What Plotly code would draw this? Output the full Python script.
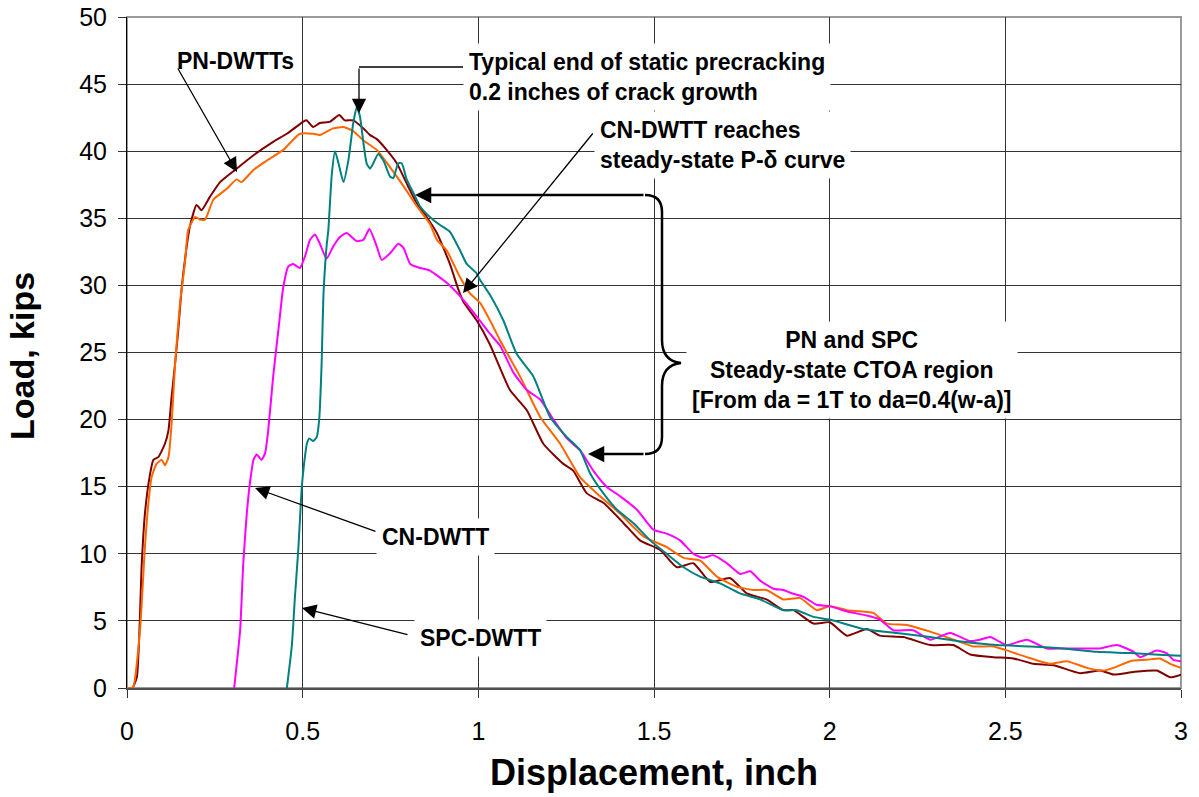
import plotly.graph_objects as go

# ---------------- data ----------------
pn1_x = [0.0, 0.015, 0.028, 0.042, 0.051, 0.064, 0.075, 0.089, 0.108, 0.118, 0.127, 0.137, 0.146, 0.156,
         0.170, 0.179, 0.198, 0.212, 0.236, 0.265, 0.312, 0.36, 0.416, 0.455, 0.502, 0.511, 0.53, 0.549,
         0.578, 0.604, 0.62, 0.644, 0.673, 0.692, 0.711, 0.739, 0.768, 0.796, 0.825, 0.853, 0.882, 0.919,
         0.943, 0.957, 0.995, 1.033, 1.09, 1.138, 1.185, 1.242, 1.27, 1.309, 1.356, 1.413, 1.46, 1.517,
         1.565, 1.612, 1.66, 1.716, 1.764, 1.82, 1.868, 1.897, 1.954, 2.0, 2.049, 2.106, 2.143, 2.21,
         2.286, 2.352, 2.4, 2.466, 2.523, 2.58, 2.637, 2.713, 2.77, 2.808, 2.865, 2.931, 2.969, 3.0]
pn1_y = [0.0, 0.0, 0.8, 9.3, 13.0, 15.7, 17.0, 17.2, 18.2, 19.2, 21.7, 24.2, 26.7, 29.9,
         32.9, 34.4, 36.0, 35.6, 36.6, 37.7, 38.7, 39.7, 40.7, 41.3, 42.2, 42.3, 41.8, 42.1,
         42.2, 42.7, 42.3, 42.3, 41.7, 41.2, 40.9, 40.1, 39.1, 37.6, 36.1, 35.1, 33.9, 31.6,
         29.7, 28.8, 27.4, 25.6, 22.2, 20.7, 18.2, 16.7, 16.2, 14.5, 13.8, 12.3, 11.0, 10.3,
         9.0, 9.3, 7.9, 8.2, 7.05, 6.6, 5.8, 5.8, 4.8, 4.9, 3.9, 4.4, 3.9, 3.8,
         3.2, 3.2, 2.5, 2.3, 2.2, 1.8, 1.7, 1.1, 1.3, 1.0, 1.2, 1.3, 0.8, 1.0]

pn2_x = [0.0, 0.012, 0.018, 0.037, 0.051, 0.061, 0.07, 0.084, 0.099, 0.108, 0.118, 0.127, 0.137, 0.151,
         0.165, 0.174, 0.194, 0.208, 0.222, 0.246, 0.284, 0.312, 0.326, 0.36, 0.398, 0.445, 0.492, 0.53,
         0.549, 0.587, 0.616, 0.644, 0.673, 0.711, 0.749, 0.787, 0.825, 0.862, 0.882, 0.91, 0.948, 0.976,
         1.005, 1.033, 1.062, 1.119, 1.176, 1.233, 1.29, 1.346, 1.403, 1.47, 1.536, 1.584, 1.631, 1.679,
         1.736, 1.783, 1.82, 1.868, 1.916, 1.963, 2.0, 2.049, 2.124, 2.162, 2.22, 2.286, 2.343, 2.409,
         2.466, 2.504, 2.561, 2.627, 2.675, 2.732, 2.779, 2.808, 2.855, 2.902, 2.94, 2.969, 3.0]
pn2_y = [0.0, 0.0, 0.1, 4.3, 10.5, 13.8, 15.7, 16.7, 17.0, 16.6, 17.2, 19.7, 24.2, 28.7,
         31.7, 34.1, 35.1, 34.9, 34.9, 36.4, 37.2, 37.9, 37.7, 38.6, 39.3, 40.1, 41.3, 41.3,
         41.2, 41.7, 41.8, 41.5, 40.8, 40.1, 38.8, 37.4, 35.9, 34.6, 33.4, 32.6, 30.6, 29.4,
         28.7, 27.4, 25.9, 23.2, 20.2, 18.2, 15.7, 14.3, 13.0, 11.3, 10.5, 9.7, 9.5, 8.3,
         7.55, 7.3, 7.3, 6.6, 6.7, 5.8, 6.1, 5.8, 5.6, 4.8, 4.7, 4.2, 3.7, 3.1,
         3.1, 2.8, 2.3, 1.8, 2.0, 1.5, 1.3, 1.5, 2.0, 2.1, 2.2, 1.8, 1.5]

cn_x = [0.305, 0.322, 0.331, 0.341, 0.35, 0.36, 0.369, 0.383, 0.393, 0.402, 0.416, 0.431, 0.445, 0.459,
        0.473, 0.492, 0.507, 0.521, 0.535, 0.549, 0.568, 0.587, 0.606, 0.625, 0.654, 0.673, 0.69, 0.711,
        0.725, 0.749, 0.772, 0.787, 0.806, 0.834, 0.862, 0.91, 0.948, 0.995, 1.033, 1.062, 1.1, 1.138,
        1.176, 1.214, 1.252, 1.29, 1.327, 1.365, 1.403, 1.451, 1.498, 1.536, 1.574, 1.612, 1.641, 1.669,
        1.707, 1.745, 1.774, 1.802, 1.84, 1.868, 1.888, 1.925, 1.963, 2.0, 2.049, 2.106, 2.143, 2.181,
        2.238, 2.286, 2.343, 2.4, 2.428, 2.457, 2.504, 2.561, 2.618, 2.665, 2.722, 2.77, 2.817, 2.865,
        2.884, 2.931, 2.959, 2.978, 3.0]
cn_y = [0.0, 4.3, 9.3, 13.0, 15.3, 17.0, 17.4, 17.0, 17.5, 19.2, 23.2, 26.7, 29.9, 31.4,
        31.6, 31.3, 32.2, 33.4, 33.8, 33.1, 32.0, 32.9, 33.6, 33.9, 33.3, 33.4, 34.2, 32.9,
        31.9, 32.4, 33.1, 32.8, 31.6, 31.3, 31.1, 30.2, 29.2, 27.7, 26.4, 25.5, 23.5, 22.2,
        21.5, 20.0, 18.6, 17.7, 16.2, 15.0, 14.3, 13.3, 11.8, 11.5, 11.0, 10.0, 9.7, 9.9,
        9.3, 8.5, 8.7, 8.0, 7.4, 7.3, 7.1, 6.8, 6.2, 6.1, 5.7, 5.4, 5.1, 4.3,
        4.3, 3.6, 4.1, 3.5, 3.6, 3.8, 3.2, 3.6, 2.95, 2.95, 2.95, 2.95, 3.2, 2.7,
        2.3, 2.8, 2.6, 2.1, 2.0]

spc_x = [0.455, 0.469, 0.478, 0.488, 0.497, 0.504, 0.512, 0.519, 0.53, 0.54, 0.547, 0.554, 0.559, 0.568,
         0.573, 0.583, 0.592, 0.602, 0.616, 0.63, 0.644, 0.654, 0.663, 0.673, 0.682, 0.692, 0.701, 0.715,
         0.73, 0.749, 0.758, 0.772, 0.782, 0.796, 0.815, 0.834, 0.862, 0.891, 0.919, 0.948, 0.967, 0.995,
         1.005, 1.033, 1.071, 1.109, 1.157, 1.204, 1.252, 1.29, 1.318, 1.356, 1.394, 1.441, 1.489, 1.536,
         1.584, 1.631, 1.688, 1.745, 1.802, 1.868, 1.906, 1.954, 2.0, 2.096, 2.191, 2.286, 2.381, 2.476,
         2.571, 2.665, 2.76, 2.855, 2.95, 3.0]
spc_y = [0.0, 3.1, 6.8, 10.5, 14.8, 16.7, 18.2, 18.6, 18.4, 18.7, 20.0, 24.2, 29.2, 32.9,
         34.1, 38.3, 40.0, 39.1, 37.7, 39.3, 42.1, 43.3, 42.6, 40.6, 39.1, 38.7, 39.1, 39.8,
         39.3, 38.1, 38.0, 39.1, 39.1, 37.9, 36.9, 35.9, 35.1, 34.5, 34.0, 32.6, 31.6, 30.9,
         30.4, 29.3, 27.4, 24.9, 23.2, 20.2, 18.7, 17.7, 16.0, 14.5, 13.3, 12.3, 11.0, 10.0,
         9.0, 8.3, 7.8, 7.05, 6.6, 5.8, 5.8, 5.3, 5.1, 4.4, 4.1, 3.8, 3.45, 3.2,
         3.1, 2.95, 2.7, 2.6, 2.45, 2.4]

x_ticks = [0, 0.5, 1, 1.5, 2, 2.5, 3]
x_tick_labels = ["0", "0.5", "1", "1.5", "2", "2.5", "3"]
y_ticks = [0, 5, 10, 15, 20, 25, 30, 35, 40, 45, 50]

# ---------------- figure ----------------
W, H = 1199, 797
ML, MR, MT, MB = 127, 18, 17, 109
X0, X1, Y0, Y1 = 0.0, 3.0, 0.0, 50.0
pw, ph = W - ML - MR, H - MT - MB


def X(px):
    return X0 + (px - ML) / pw * (X1 - X0)


def Y(py):
    return Y0 + (MT + ph - py) / ph * (Y1 - Y0)


FONT = "Liberation Sans, Arial, sans-serif"

fig = go.Figure()
series = [
    (pn1_x, pn1_y, "#800000"),
    (pn2_x, pn2_y, "#FF6600"),
    (cn_x, cn_y, "#FF00FF"),
    (spc_x, spc_y, "#008080"),
]
for xs, ys, c in series:
    fig.add_trace(go.Scatter(x=xs, y=ys, mode="lines",
                             line=dict(color=c, width=2, shape="spline", smoothing=0.5),
                             showlegend=False, hoverinfo="skip"))

# plot-area border (top/right grey)
shapes = [dict(type="rect", xref="paper", yref="paper", x0=0, x1=1, y0=0, y1=1,
               line=dict(color="#9a9a9a", width=2), layer="below")]

# leader line for "Typical end ..." text
shapes.append(dict(type="line", xref="x", yref="y", x0=X(359), y0=Y(67), x1=X(463), y1=Y(67),
                   line=dict(color="black", width=1.3)))


def P(px, py):
    return f"{X(px):.5f},{Y(py):.5f}"


# brace path
path = (f"M {P(645,195)} Q {P(662,195)} {P(662,212)} L {P(662,340)} "
        f"Q {P(662,361)} {P(681,363)} Q {P(662,365)} {P(662,386)} "
        f"L {P(662,437)} Q {P(662,454)} {P(645,454)}")
shapes.append(dict(type="path", xref="x", yref="y", path=path,
                   line=dict(color="black", width=2.5)))

ann = []


def text(px, py, t, xanchor="center", align="center"):
    ann.append(dict(x=X(px), y=Y(py), xref="x", yref="y", text=t, showarrow=False,
                    xanchor=xanchor, yanchor="middle", align=align,
                    font=dict(family=FONT, size=23, color="black"),
                    bgcolor="white", borderpad=5))


def arrow(tx, ty, hx, hy, w=1.3, size=2.2):
    ann.append(dict(x=X(hx), y=Y(hy), ax=X(tx), ay=Y(ty), xref="x", yref="y",
                    axref="x", ayref="y", text="", showarrow=True,
                    arrowhead=2, arrowsize=size, arrowwidth=w, arrowcolor="black",
                    standoff=0, startstandoff=0))


text(235, 61, "<b>PN-DWTTs</b>")
text(463, 77, "<b>Typical end of static precracking<br>0.2 inches of crack growth</b>",
     xanchor="left", align="left")
text(594, 145, "<b>CN-DWTT reaches<br>steady-state P-δ curve</b>", xanchor="left", align="left")
text(852, 370, "<b>PN and SPC<br>Steady-state CTOA region<br>[From da = 1T to da=0.4(w-a)]</b>")
text(435, 537, "<b>CN-DWTT</b>")
text(480, 638, "<b>SPC-DWTT</b>")

arrow(177, 67, 237, 172)
arrow(359, 67, 359, 113)
arrow(594, 132, 463, 293)
arrow(377, 532, 255, 488)
arrow(409, 635, 302, 608)
arrow(645, 195, 415, 195, w=2.5, size=1.3)
arrow(645, 454, 588, 454, w=2.5, size=1.3)

# axis titles
ann.append(dict(x=0.5, y=(MT + ph - 772) / ph, xref="paper", yref="paper",
                text="<b>Displacement, inch</b>", showarrow=False,
                xanchor="center", yanchor="middle",
                font=dict(family=FONT, size=36, color="black")))
ann.append(dict(x=(22 - ML) / pw, y=(MT + ph - 356) / ph, xref="paper", yref="paper",
                text="<b>Load, kips</b>", showarrow=False, textangle=-90,
                xanchor="center", yanchor="middle",
                font=dict(family=FONT, size=34, color="black")))

fig.update_layout(
    width=W, height=H, autosize=False,
    margin=dict(l=ML, r=MR, t=MT, b=MB, pad=0, autoexpand=False),
    paper_bgcolor="white", plot_bgcolor="white",
    shapes=shapes, annotations=ann,
    showlegend=False,
    xaxis=dict(range=[X0, X1], tickmode="array", tickvals=x_ticks, ticktext=x_tick_labels,
               automargin=False,
               showgrid=True, gridcolor="#333333", gridwidth=1,
               showline=True, linecolor="#505050", linewidth=2,
               ticks="outside", ticklen=8, tickcolor="#333333", ticklabelstandoff=12,
               zeroline=False, tickfont=dict(family=FONT, size=25, color="black")),
    yaxis=dict(range=[Y0, Y1], tickmode="array", tickvals=y_ticks,
               automargin=False,
               showgrid=True, gridcolor="#333333", gridwidth=1,
               showline=True, linecolor="black", linewidth=1,
               ticks="outside", ticklen=8, tickcolor="#333333", ticklabelstandoff=6,
               zeroline=False, tickfont=dict(family=FONT, size=25, color="black")),
)

fig.write_html("out.html", config={"displayModeBar": False},
               post_script="document.body.style.margin='0';document.body.style.overflow='hidden';")
